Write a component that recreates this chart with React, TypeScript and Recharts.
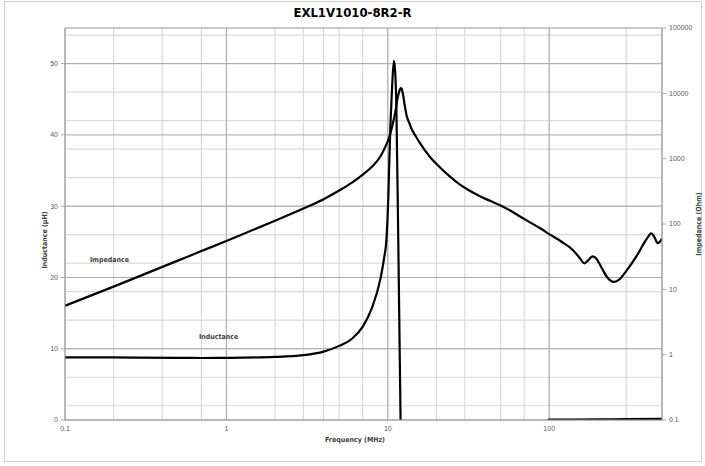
import React from 'react';
import { ComposedChart, Line, XAxis, YAxis, CartesianGrid } from 'recharts';

// Impedance curve (MHz -> Ohm)
const impFreq = [0.1, 0.2, 0.3, 0.5, 0.7, 1, 2, 3, 4, 5, 6, 7, 8, 9, 9.5, 10, 10.3, 10.6, 10.9, 11.2, 11.5, 11.8, 12.0, 12.2, 12.5, 12.75, 13.1, 13.6, 14.1, 15, 15.8, 18.2, 21, 24.3, 28, 32, 37, 43, 50, 57, 66, 77, 88, 100, 120, 140, 155, 165, 175, 185, 195, 210, 230, 250, 270, 300, 350, 400, 430, 450, 470, 490, 500];
const impedance = [5.6, 11, 16.5, 27.5, 38.5, 55, 112, 172, 240, 325, 430, 570, 760, 1080, 1400, 1850, 2300, 3000, 4000, 5600, 8500, 10800, 12000, 11600, 8800, 6400, 4500, 3500, 2800, 2150, 1740, 1070, 740, 530, 400, 325, 268, 226, 192, 162, 130, 104, 86, 70, 53, 40, 30, 25, 28, 32, 30, 22, 15, 13, 14, 19, 33, 58, 72, 62, 51, 55, 60];

// Inductance curve (MHz -> uH); negative part runs below the plot and gets clipped
const indFreq = [0.1, 0.2, 0.5, 0.7, 1, 2, 3, 4, 5, 6, 7, 8, 9, 9.5, 9.8, 10.1, 10.3, 10.6, 10.9, 11.1, 11.3, 11.6, 12.0, 12.3, 15, 30, 60, 95, 100, 200, 300, 500];
const inductance = [8.8, 8.78, 8.72, 8.7, 8.72, 8.85, 9.1, 9.6, 10.4, 11.4, 13.1, 15.8, 19.8, 22.8, 25.2, 32, 39, 46, 50.4, 49, 44, 26, 0, -20, -40, -20, -5, -0.5, 0.05, 0.08, 0.12, 0.15];

const freqTicks = [0.1, 1, 10, 100];
const freqMinorTicks = [0.1, 0.2, 0.3, 0.4, 0.5, 0.6, 0.7, 0.8, 0.9, 1, 2, 3, 4, 5, 6, 7, 8, 9, 10, 20, 30, 40, 50, 60, 70, 80, 90, 100, 200, 300, 400, 500];
const indTicks = [0, 10, 20, 30, 40, 50];
const indMinorTicks = [0, 2, 4, 6, 8, 10, 12, 14, 16, 18, 20, 22, 24, 26, 28, 30, 32, 34, 36, 38, 40, 42, 44, 46, 48, 50, 52, 54];
const impTicks = [0.1, 1, 10, 100, 1000, 10000, 100000];

const impData = impFreq.map((f, i) => ({ f, z: impedance[i] }));
const indData = indFreq.map((f, i) => ({ f, l: inductance[i] }));

const tickStyle = { fontSize: 7, fill: '#595959', stroke: 'none', fontFamily: "'Liberation Sans', Arial, sans-serif" };
const boldFont = "'Liberation Sans Narrow', 'DejaVu Sans Condensed', Arial, sans-serif";

export default function App() {
  return (
    <div style={{ position: 'fixed', left: 0, top: 0, width: 705, height: 466, background: '#fff' }}>
      <div style={{ position: 'absolute', left: 4, top: 1, width: 696, height: 459, border: '1px solid #d0d0d0' }} />
      <ComposedChart
        width={705}
        height={466}
        margin={{ top: 28, right: 0, bottom: 26, left: 35 }}
        style={{ position: 'absolute', left: 0, top: 0 }}
      >
        <XAxis
          xAxisId="minor"
          type="number"
          dataKey="f"
          scale="log"
          domain={[0.1, 500]}
          ticks={freqMinorTicks}
          allowDataOverflow
          hide
        />
        <XAxis
          xAxisId="main"
          type="number"
          dataKey="f"
          scale="log"
          domain={[0.1, 500]}
          ticks={freqTicks}
          allowDataOverflow
          height={20}
          tickLine={false}
          tickSize={4}
          tickMargin={2}
          stroke="#a6a6a6"
          tick={tickStyle}
          tickFormatter={(v: number) => String(v)}
        />
        <YAxis
          yAxisId="lminor"
          type="number"
          domain={[0, 55]}
          ticks={indMinorTicks}
          allowDataOverflow
          hide
        />
        <YAxis
          yAxisId="l"
          type="number"
          domain={[0, 55]}
          ticks={indTicks}
          allowDataOverflow
          width={30}
          tickSize={4}
          tickMargin={3}
          stroke="#a6a6a6"
          tick={tickStyle}
        />
        <YAxis
          yAxisId="z"
          orientation="right"
          type="number"
          scale="log"
          domain={[0.1, 100000]}
          ticks={impTicks}
          allowDataOverflow
          width={43}
          tickSize={4}
          tickMargin={3}
          stroke="#a6a6a6"
          tick={tickStyle}
          tickFormatter={(v: number) => String(v)}
        />
        <CartesianGrid xAxisId="minor" yAxisId="lminor" stroke="#dadada" strokeWidth={1.2} />
        <CartesianGrid xAxisId="main" yAxisId="l" stroke="#a8a8a8" strokeWidth={1} />
        <Line
          data={impData}
          xAxisId="main"
          yAxisId="z"
          dataKey="z"
          type="monotone"
          stroke="#000"
          strokeWidth={2.2}
          dot={false}
          isAnimationActive={false}
        />
        <Line
          data={indData}
          xAxisId="main"
          yAxisId="l"
          dataKey="l"
          type="monotone"
          stroke="#000"
          strokeWidth={2.2}
          dot={false}
          isAnimationActive={false}
        />
      </ComposedChart>

      <div style={{ position: 'absolute', left: 0, width: 705, top: 5, textAlign: 'center', fontFamily: boldFont, fontWeight: 'bold', fontSize: 13, color: '#000' }}>
        EXL1V1010-8R2-R
      </div>
      <div style={{ position: 'absolute', left: 255, width: 200, top: 436, textAlign: 'center', fontFamily: boldFont, fontWeight: 'bold', fontSize: 7, color: '#404040' }}>
        Frequency (MHz)
      </div>
      <div style={{ position: 'absolute', left: 45, top: 240, width: 120, marginLeft: -60, marginTop: -5, textAlign: 'center', transform: 'rotate(-90deg)', fontFamily: boldFont, fontWeight: 'bold', fontSize: 7, color: '#404040', lineHeight: '10px' }}>
        Inductance (µH)
      </div>
      <div style={{ position: 'absolute', left: 699, top: 224, width: 120, marginLeft: -60, marginTop: -5, textAlign: 'center', transform: 'rotate(-90deg)', fontFamily: boldFont, fontWeight: 'bold', fontSize: 7, color: '#404040', lineHeight: '10px' }}>
        Impedance (Ohm)
      </div>
      <div style={{ position: 'absolute', left: 90, top: 255, fontFamily: boldFont, fontWeight: 'bold', fontSize: 7, color: '#404040', lineHeight: '10px' }}>
        Impedance
      </div>
      <div style={{ position: 'absolute', left: 199, top: 332, fontFamily: boldFont, fontWeight: 'bold', fontSize: 7, color: '#404040', lineHeight: '10px' }}>
        Inductance
      </div>
    </div>
  );
}
